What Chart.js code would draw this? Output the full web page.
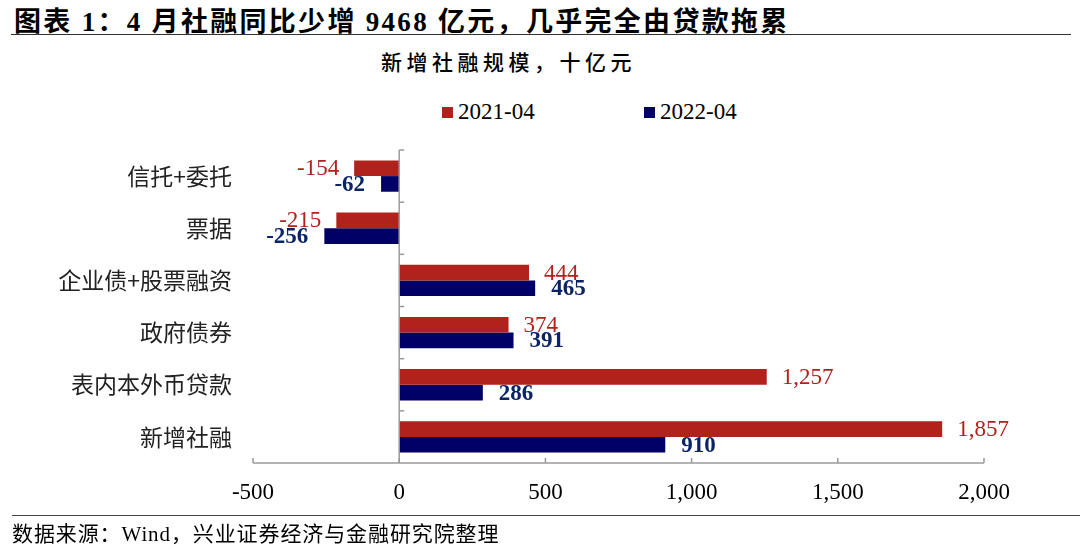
<!DOCTYPE html>
<html>
<head>
<meta charset="utf-8">
<script src="https://cdn.jsdelivr.net/npm/chart.js@4"></script>
<style>
html,body{margin:0;padding:0;background:#fff;}
#wrap{position:relative;width:1080px;height:552px;overflow:hidden;}
#c{position:absolute;left:0;top:0;}
.t{position:absolute;white-space:nowrap;}
#title{left:14px;top:0px;font:bold 27px "Liberation Serif","Noto Sans CJK SC";letter-spacing:2.3px;color:#000;}
#tline{left:11px;top:34px;width:1060px;height:0;border-top:1.5px solid #333;}
#sub{left:381px;top:46px;font:21px "Noto Sans CJK SC";letter-spacing:4.5px;color:#000;font-weight:500;}
#fline{left:12px;top:515px;width:1068px;height:0;border-top:1.5px solid #444;}
#foot{left:12px;top:517px;font:21px "Liberation Serif","Noto Sans CJK SC";color:#000;letter-spacing:0.9px;}
.leg{position:absolute;top:99px;font:23px "Liberation Serif";color:#000;}
.sq{display:inline-block;width:11px;height:11px;margin-right:5px;vertical-align:1px;}
</style>
</head>
<body>
<div id="wrap">
<div class="t" id="title">图表 1：4 月社融同比少增 9468 亿元，几乎完全由贷款拖累</div>
<div class="t" id="tline"></div>
<div class="t" id="sub">新增社融规模，十亿元</div>
<div class="leg" style="left:442px"><span class="sq" style="background:#B0221B"></span>2021-04</div>
<div class="leg" style="left:644px"><span class="sq" style="background:#000066"></span>2022-04</div>
<canvas id="c" width="1080" height="552"></canvas>
<div class="t" id="fline"></div>
<div class="t" id="foot">数据来源：Wind，兴业证券经济与金融研究院整理</div>
</div>
<script>
const categories = ['信托+委托','票据','企业债+股票融资','政府债券','表内本外币贷款','新增社融'];
const series2021 = [-154,-215,444,374,1257,1857];
const series2022 = [-62,-256,465,391,286,910];
const seriesNames = ['2021-04','2022-04'];
const xTicks = [-500,0,500,1000,1500,2000];

const RED='#B0221B', NAVY='#000066', GRAY='#9a9a9a';

const fmt = v => v.toLocaleString('en-US');

const axesPlugin = {
  id:'axesPlugin',
  afterDatasetsDraw(chart){
    const ctx=chart.ctx, a=chart.chartArea, xs=chart.scales.x, ys=chart.scales.y;
    ctx.save();
    ctx.strokeStyle=GRAY; ctx.lineWidth=1.5;
    ctx.beginPath(); ctx.moveTo(a.left,a.bottom); ctx.lineTo(a.right,a.bottom); ctx.stroke();
    xTicks.forEach(v=>{const x=xs.getPixelForValue(v);ctx.beginPath();ctx.moveTo(x,a.bottom);ctx.lineTo(x,a.bottom-5);ctx.stroke();});
    const x0=xs.getPixelForValue(0);
    ctx.beginPath(); ctx.moveTo(x0,a.top); ctx.lineTo(x0,a.bottom); ctx.stroke();
    const n=categories.length, step=(a.bottom-a.top)/n;
    for(let i=0;i<n;i++){const y=ys.getPixelForValue(i)-step/2;ctx.beginPath();ctx.moveTo(x0,y);ctx.lineTo(x0+5,y);ctx.stroke();}
    chart.data.datasets.forEach((ds,di)=>{
      const meta=chart.getDatasetMeta(di);
      ctx.font=(di===1?'bold ':'')+'23px "Liberation Serif"';
      ctx.fillStyle=di===0?RED:'#0b2466';
      ctx.textBaseline='middle';
      meta.data.forEach((bar,i)=>{
        const v=ds.data[i];
        const off=di===0?15:16;
        if(v>=0){ctx.textAlign='left';ctx.fillText(fmt(v),bar.x+off,bar.y+1);}
        else{ctx.textAlign='right';ctx.fillText(fmt(v),bar.x-off,bar.y+1);}
      });
    });
    ctx.restore();
  }
};

new Chart(document.getElementById('c'),{
  type:'bar',
  data:{labels:categories,datasets:[
    {label:seriesNames[0],data:series2021,backgroundColor:RED,categoryPercentage:0.6,barPercentage:1},
    {label:seriesNames[1],data:series2022,backgroundColor:NAVY,categoryPercentage:0.6,barPercentage:1}
  ]},
  options:{
    indexAxis:'y',responsive:false,animation:false,devicePixelRatio:1,
    layout:{padding:{top:150,right:96,bottom:0,left:0}},
    plugins:{legend:{display:false},tooltip:{enabled:false}},
    scales:{
      x:{min:-500,max:2000,afterBuildTicks(s){s.ticks=xTicks.map(v=>({value:v}));},
        afterFit(s){s.height=552-463;},
        grid:{display:false,drawTicks:false},border:{display:false},
        ticks:{padding:16,color:'#000',font:{family:'"Liberation Serif"',size:23},callback:v=>fmt(v)}},
      y:{afterFit(s){s.width=253;},
        grid:{display:false,drawTicks:false},border:{display:false},
        ticks:{padding:21,color:'#222',font:{family:'"Noto Sans CJK SC"',size:23}}}
    }
  },
  plugins:[axesPlugin]
});
</script>
</body>
</html>
